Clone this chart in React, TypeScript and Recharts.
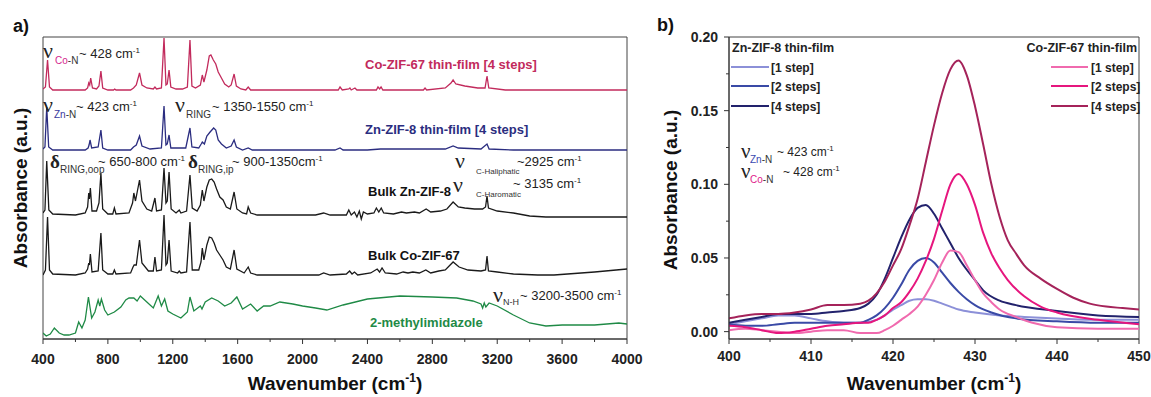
import React from 'react';
import { LineChart, Line, XAxis, YAxis, ReferenceArea, Legend } from 'recharts';

// ---- panel a: FTIR spectra, [wavenumber, absorbance above the trace's own baseline]
const coFilmShift = 2.49;
const coFilm: [number, number][] = [
  [400, 0.01], [415, 0.03], [428, 0.30], [440, 0.03], [460, 0.0], [660, 0.0], [675, 0.02], [682, 0.07],
  [688, 0.05], [694, 0.12], [705, 0.02], [730, 0.01], [745, 0.04], [757, 0.19], [768, 0.02], [800, 0.0],
  [835, 0.0], [842, 0.01], [850, 0.0], [940, 0.0], [958, 0.02], [975, 0.05], [995, 0.17], [1010, 0.05],
  [1040, 0.02], [1080, 0.01], [1090, 0.03], [1100, 0.01], [1130, 0.02], [1146, 0.52], [1158, 0.05],
  [1166, 0.06], [1177, 0.20], [1188, 0.03], [1220, 0.01], [1260, 0.01], [1290, 0.03], [1306, 0.50],
  [1318, 0.04], [1340, 0.02], [1370, 0.05], [1382, 0.15], [1392, 0.08], [1410, 0.20], [1425, 0.34],
  [1435, 0.35], [1450, 0.30], [1465, 0.26], [1480, 0.18], [1500, 0.12], [1520, 0.06], [1545, 0.03],
  [1560, 0.05], [1578, 0.16], [1592, 0.04], [1620, 0.01], [1650, 0.0], [1665, 0.03], [1680, 0.0],
  [2220, 0.0], [2231, 0.03], [2245, 0.0], [2285, 0.01], [2292, 0.02], [2300, 0.0], [2323, 0.02],
  [2335, 0.0], [2455, 0.0], [2465, 0.03], [2475, 0.01], [2484, 0.03], [2495, 0.0], [2745, 0.0],
  [2755, 0.02], [2765, 0.0], [2880, 0.02], [2915, 0.07], [2928, 0.10], [2945, 0.06], [3000, 0.04],
  [3080, 0.02], [3125, 0.02], [3137, 0.14], [3148, 0.02], [3250, 0.0], [4000, 0.0],
];

const znFilmShift = 1.89;
const znFilm: [number, number][] = [
  [400, 0.01], [412, 0.03], [423, 0.43], [435, 0.03], [460, 0.0], [660, 0.0], [678, 0.02], [684, 0.05],
  [690, 0.10], [700, 0.02], [740, 0.03], [757, 0.20], [768, 0.02], [800, 0.0], [940, 0.0], [958, 0.03],
  [975, 0.05], [995, 0.14], [1010, 0.04], [1060, 0.01], [1130, 0.02], [1146, 0.44], [1158, 0.05],
  [1166, 0.06], [1177, 0.15], [1188, 0.02], [1280, 0.02], [1306, 0.22], [1318, 0.03], [1360, 0.02],
  [1375, 0.06], [1382, 0.08], [1395, 0.06], [1410, 0.14], [1430, 0.18], [1452, 0.22], [1465, 0.20],
  [1480, 0.10], [1500, 0.06], [1530, 0.02], [1560, 0.04], [1578, 0.10], [1592, 0.03], [1630, 0.0],
  [1665, 0.02], [1690, 0.0], [2200, 0.0], [2231, 0.02], [2250, 0.0], [2400, 0.0], [2480, 0.01],
  [2880, 0.01], [2928, 0.04], [2960, 0.02], [3100, 0.01], [3137, 0.06], [3150, 0.01], [3300, 0.0],
  [4000, 0.0],
];

const bulkZnShift = 1.24;
const bulkZn: [number, number][] = [
  [400, 0.02], [412, 0.05], [423, 0.54], [436, 0.05], [460, 0.01], [600, 0.0], [660, 0.02], [675, 0.08],
  [682, 0.22], [686, 0.16], [692, 0.27], [702, 0.04], [730, 0.04], [745, 0.12], [757, 0.42], [768, 0.06],
  [800, 0.01], [830, 0.01], [840, 0.07], [850, 0.01], [930, 0.02], [952, 0.12], [960, 0.22], [970, 0.14],
  [995, 0.35], [1010, 0.14], [1040, 0.06], [1070, 0.04], [1090, 0.17], [1100, 0.04], [1130, 0.05],
  [1146, 0.47], [1158, 0.12], [1166, 0.14], [1177, 0.43], [1190, 0.06], [1220, 0.02], [1240, 0.05],
  [1250, 0.02], [1285, 0.04], [1306, 0.40], [1320, 0.07], [1350, 0.04], [1370, 0.10], [1382, 0.25],
  [1392, 0.14], [1410, 0.28], [1425, 0.35], [1440, 0.36], [1455, 0.33], [1470, 0.26], [1490, 0.18],
  [1510, 0.15], [1530, 0.08], [1555, 0.06], [1578, 0.23], [1595, 0.06], [1630, 0.02], [1655, 0.01],
  [1665, 0.08], [1680, 0.02], [1720, 0.0], [2080, 0.0], [2130, 0.02], [2170, 0.0], [2270, 0.0],
  [2285, 0.05], [2300, 0.0], [2320, 0.03], [2335, -0.02], [2350, 0.04], [2362, -0.04], [2375, 0.03],
  [2400, 0.01], [2440, 0.02], [2455, 0.07], [2470, 0.03], [2485, 0.07], [2500, 0.02], [2560, 0.01],
  [2610, 0.03], [2640, 0.02], [2690, 0.03], [2720, 0.02], [2762, 0.06], [2790, 0.03], [2850, 0.04],
  [2890, 0.06], [2928, 0.13], [2960, 0.08], [3000, 0.07], [3060, 0.06], [3110, 0.06], [3128, 0.08],
  [3137, 0.19], [3146, 0.07], [3200, 0.04], [3300, 0.02], [3400, -0.01], [3500, -0.02], [4000, -0.02],
];

const bulkCoShift = 0.64;
const bulkCo: [number, number][] = [
  [400, 0.0], [415, 0.05], [428, 0.58], [440, 0.05], [460, 0.01], [600, 0.0], [660, 0.02], [675, 0.06],
  [682, 0.12], [686, 0.10], [692, 0.21], [702, 0.03], [740, 0.04], [757, 0.42], [768, 0.05], [800, 0.01],
  [830, 0.01], [840, 0.05], [850, 0.01], [940, 0.02], [955, 0.08], [962, 0.10], [975, 0.10], [995, 0.35],
  [1010, 0.12], [1050, 0.04], [1080, 0.04], [1090, 0.18], [1100, 0.04], [1130, 0.05], [1146, 0.60],
  [1158, 0.10], [1166, 0.12], [1177, 0.35], [1190, 0.04], [1230, 0.02], [1240, 0.04], [1250, 0.02],
  [1285, 0.03], [1306, 0.53], [1320, 0.05], [1360, 0.05], [1374, 0.13], [1382, 0.27], [1392, 0.15],
  [1410, 0.30], [1425, 0.38], [1440, 0.37], [1455, 0.32], [1470, 0.25], [1490, 0.20], [1510, 0.15],
  [1530, 0.08], [1555, 0.06], [1578, 0.25], [1595, 0.06], [1640, 0.02], [1665, 0.08], [1680, 0.02],
  [1720, 0.0], [2100, 0.0], [2130, 0.02], [2170, 0.0], [2270, 0.01], [2290, 0.04], [2305, 0.01],
  [2320, 0.03], [2340, 0.0], [2420, 0.02], [2460, 0.06], [2475, 0.03], [2490, 0.07], [2510, 0.02],
  [2580, 0.01], [2620, 0.03], [2650, 0.02], [2680, 0.03], [2720, 0.02], [2760, 0.05], [2790, 0.02],
  [2840, 0.04], [2880, 0.05], [2928, 0.13], [2965, 0.08], [3020, 0.05], [3100, 0.04], [3128, 0.05],
  [3137, 0.19], [3146, 0.04], [3200, 0.03], [3300, 0.01], [3450, 0.0], [3550, 0.0], [3800, 0.03],
  [4000, 0.06],
];

const mimShift = 0;
const mim: [number, number][] = [
  [400, 0.06], [420, 0.03], [445, 0.05], [470, 0.11], [500, 0.06], [530, 0.04], [560, 0.04], [600, 0.06],
  [620, 0.17], [640, 0.11], [660, 0.19], [680, 0.42], [700, 0.21], [720, 0.27], [740, 0.39], [750, 0.33],
  [760, 0.40], [780, 0.29], [800, 0.24], [840, 0.27], [880, 0.32], [910, 0.39], [930, 0.41], [960, 0.41],
  [980, 0.38], [1000, 0.43], [1040, 0.37], [1080, 0.31], [1110, 0.43], [1130, 0.33], [1150, 0.40],
  [1170, 0.28], [1200, 0.25], [1250, 0.21], [1290, 0.27], [1306, 0.42], [1330, 0.28], [1370, 0.33],
  [1380, 0.30], [1400, 0.37], [1440, 0.41], [1480, 0.38], [1520, 0.33], [1560, 0.36], [1595, 0.42],
  [1630, 0.30], [1680, 0.35], [1720, 0.28], [1760, 0.33], [1800, 0.33], [1860, 0.37], [1940, 0.35],
  [2000, 0.33], [2080, 0.31], [2150, 0.29], [2250, 0.34], [2400, 0.40], [2600, 0.43], [2800, 0.42],
  [2950, 0.41], [3050, 0.38], [3100, 0.35], [3110, 0.31], [3120, 0.36], [3130, 0.32], [3150, 0.36],
  [3200, 0.33], [3300, 0.24], [3400, 0.16], [3500, 0.13], [3600, 0.14], [3800, 0.14], [3950, 0.16],
  [4000, 0.15],
];

const spectraTicks = [400, 600, 800, 1000, 1200, 1400, 1600, 1800, 2000, 2200, 2400, 2600, 2800, 3000,
  3200, 3400, 3600, 3800, 4000];

// ---- panel b: zoom on the M-N stretch, [wavenumber, absorbance]
const zn1: [number, number][] = [
  [400, 0.005], [402, 0.007], [404, 0.009], [406, 0.011], [408, 0.011], [410, 0.009], [412, 0.007],
  [414, 0.006], [416, 0.006], [418, 0.008], [419, 0.011], [420, 0.015], [421, 0.018], [422, 0.021],
  [423, 0.022], [424, 0.022], [425, 0.021], [426, 0.019], [427, 0.017], [428, 0.015], [430, 0.013],
  [433, 0.011], [436, 0.010], [440, 0.009], [445, 0.008], [450, 0.008],
];
const zn2: [number, number][] = [
  [400, 0.005], [402, 0.004], [404, 0.004], [406, 0.005], [408, 0.006], [410, 0.006], [412, 0.006],
  [414, 0.006], [416, 0.006], [417, 0.008], [418, 0.011], [419, 0.016], [420, 0.023], [421, 0.032],
  [422, 0.042], [423, 0.048], [424, 0.050], [425, 0.047], [426, 0.040], [427, 0.033], [428, 0.027],
  [429, 0.022], [430, 0.018], [432, 0.013], [435, 0.009], [440, 0.007], [445, 0.006], [450, 0.006],
];
const zn4: [number, number][] = [
  [400, 0.006], [402, 0.008], [404, 0.010], [406, 0.012], [408, 0.012], [410, 0.012], [412, 0.013],
  [414, 0.014], [416, 0.016], [417, 0.019], [418, 0.025], [419, 0.036], [420, 0.050], [421, 0.064],
  [422, 0.076], [423, 0.084], [424, 0.086], [425, 0.080], [426, 0.070], [427, 0.060], [428, 0.050],
  [429, 0.042], [430, 0.035], [431, 0.028], [433, 0.021], [435, 0.018], [440, 0.014], [445, 0.011],
  [450, 0.010],
];
const co1: [number, number][] = [
  [400, 0.001], [402, 0.002], [404, 0.001], [406, 0.0], [408, -0.001], [410, 0.0], [412, 0.001],
  [414, 0.001], [416, -0.001], [418, -0.001], [419, 0.001], [420, 0.004], [421, 0.008], [422, 0.012],
  [423, 0.017], [424, 0.025], [425, 0.035], [426, 0.047], [427, 0.055], [428, 0.054], [429, 0.045],
  [430, 0.035], [431, 0.026], [432, 0.020], [433, 0.015], [435, 0.010], [437, 0.006], [440, 0.003],
  [445, 0.002], [450, 0.002],
];
const co2: [number, number][] = [
  [400, 0.004], [402, 0.003], [404, 0.001], [406, -0.001], [408, 0.0], [410, 0.002], [412, 0.004],
  [414, 0.005], [416, 0.006], [417, 0.006], [418, 0.008], [419, 0.011], [420, 0.016], [421, 0.020],
  [422, 0.027], [423, 0.036], [424, 0.048], [425, 0.063], [426, 0.082], [427, 0.100], [428, 0.107],
  [429, 0.100], [430, 0.086], [431, 0.067], [432, 0.053], [433, 0.043], [434, 0.035], [436, 0.024],
  [438, 0.017], [440, 0.013], [445, 0.008], [450, 0.005],
];
const co4: [number, number][] = [
  [400, 0.009], [402, 0.011], [404, 0.012], [406, 0.012], [408, 0.013], [410, 0.015], [412, 0.018],
  [414, 0.018], [416, 0.019], [417, 0.021], [418, 0.026], [419, 0.034], [420, 0.045], [421, 0.056],
  [422, 0.072], [423, 0.090], [424, 0.115], [425, 0.140], [426, 0.162], [427, 0.178], [428, 0.184],
  [429, 0.174], [430, 0.153], [431, 0.127], [432, 0.100], [433, 0.078], [434, 0.062], [435, 0.053],
  [436, 0.045], [438, 0.036], [440, 0.029], [442, 0.023], [444, 0.019], [446, 0.017], [448, 0.016],
  [450, 0.015],
];

const zoomXTicks = [400, 405, 410, 415, 420, 425, 430, 435, 440, 445, 450];
const zoomYTicks = [0, 0.025, 0.05, 0.075, 0.1, 0.125, 0.15, 0.175, 0.2];

const SANS = '"Liberation Sans", Arial, sans-serif';
const SERIF = '"Liberation Serif", "Times New Roman", serif';
const AXIS = '#333';

const toRows = (pts: [number, number][], shift = 0) => pts.map(([wn, v]) => ({ wn, v: v + shift }));

const spectra = [
  { key: 'coFilm', data: toRows(coFilm, coFilmShift), color: '#c22a5c' },
  { key: 'znFilm', data: toRows(znFilm, znFilmShift), color: '#2b2d80' },
  { key: 'bulkZn', data: toRows(bulkZn, bulkZnShift), color: '#1a1a1a' },
  { key: 'bulkCo', data: toRows(bulkCo, bulkCoShift), color: '#1a1a1a' },
  { key: 'mim', data: toRows(mim, mimShift), color: '#1f8a46' },
];

const zoomSeries = [
  { name: 'Zn-ZIF-8 [1 step]', data: toRows(zn1), color: '#8c90d8' },
  { name: 'Zn-ZIF-8 [2 steps]', data: toRows(zn2), color: '#3a4aa6' },
  { name: 'Zn-ZIF-8 [4 steps]', data: toRows(zn4), color: '#22226c' },
  { name: 'Co-ZIF-67 [1 step]', data: toRows(co1), color: '#f06aae' },
  { name: 'Co-ZIF-67 [2 steps]', data: toRows(co2), color: '#e6167e' },
  { name: 'Co-ZIF-67 [4 steps]', data: toRows(co4), color: '#a5235a' },
];

const XTickA = (props: any) => {
  const { x, y, payload } = props;
  const major = payload.value % 400 === 0;
  return (
    <g>
      <line x1={x} x2={x} y1={y} y2={y + (major ? 5 : 3)} stroke={AXIS} />
      {major && (
        <text x={x} y={y + 25} textAnchor="middle" fontFamily={SANS} fontSize={14} fontWeight="bold" fill="#222">
          {payload.value}
        </text>
      )}
    </g>
  );
};

const XTickB = (props: any) => {
  const { x, y, payload } = props;
  const major = payload.value % 10 === 0;
  return (
    <g>
      <line x1={x} x2={x} y1={y} y2={y + (major ? 5 : 3)} stroke={AXIS} />
      {major && (
        <text x={x} y={y + 22} textAnchor="middle" fontFamily={SANS} fontSize={14} fontWeight="bold" fill="#222">
          {payload.value}
        </text>
      )}
    </g>
  );
};

const YTickB = (props: any) => {
  const { x, y, payload } = props;
  const v = Number(payload.value);
  const major = Math.abs(v * 20 - Math.round(v * 20)) < 1e-6;
  return (
    <g>
      <line x1={x} x2={x - (major ? 5 : 3)} y1={y} y2={y} stroke={AXIS} />
      {major && (
        <text x={x - 11} y={y + 5} textAnchor="end" fontFamily={SANS} fontSize={14} fontWeight="bold" fill="#222">
          {v.toFixed(2)}
        </text>
      )}
    </g>
  );
};

const ZoomLegend = ({ payload }: any) => {
  const items = payload || [];
  const zn = items.filter((p: any) => String(p.value).startsWith('Zn'));
  const co = items.filter((p: any) => String(p.value).startsWith('Co'));
  const label = (s: string) => s.slice(s.indexOf('['));
  const rowY = [67, 86, 106];
  return (
    <svg width={511} height={130} style={{ display: 'block' }}>
      <text x={92} y={52} fontFamily={SANS} fontSize={12.5} fontWeight="bold" fill="#222">Zn-ZIF-8 thin-film</text>
      {zn.map((p: any, i: number) => (
        <g key={p.value}>
          <line x1={91} x2={129} y1={rowY[i]} y2={rowY[i]} stroke={p.color} strokeWidth={2} />
          <text x={131} y={rowY[i] + 5} fontFamily={SANS} fontSize={12} fontWeight="bold" fill="#222">{label(p.value)}</text>
        </g>
      ))}
      <text x={497} y={52} textAnchor="end" fontFamily={SANS} fontSize={12.5} fontWeight="bold" fill="#222">Co-ZIF-67 thin-film</text>
      {co.map((p: any, i: number) => (
        <g key={p.value}>
          <line x1={411} x2={448} y1={rowY[i]} y2={rowY[i]} stroke={p.color} strokeWidth={2} />
          <text x={451} y={rowY[i] + 5} fontFamily={SANS} fontSize={12} fontWeight="bold" fill="#222">{label(p.value)}</text>
        </g>
      ))}
    </svg>
  );
};

const Cm = ({ x, y, pre, size = 13 }: { x: number; y: number; pre: string; size?: number }) => (
  <text x={x} y={y} fontFamily={SANS} fontSize={size} fill="#222">
    {pre}cm<tspan dy={-5} fontSize={8}>-1</tspan>
  </text>
);

const Greek = ({ x, y, g, bold = false, size = 22 }: { x: number; y: number; g: string; bold?: boolean; size?: number }) => (
  <text x={x} y={y} fontFamily={SERIF} fontSize={size} fontWeight={bold ? 'bold' : 'normal'} fill="#222">{g}</text>
);

const Sub = ({ x, y, children, size = 10 }: any) => (
  <text x={x} y={y} fontFamily={SANS} fontSize={size} fill="#333">{children}</text>
);

const Bold = ({ x, y, fill, children, size = 13 }: any) => (
  <text x={x} y={y} fontFamily={SANS} fontSize={size} fontWeight="bold" fill={fill}>{children}</text>
);

const Annotations = () => (
  <svg width={1151} height={397} style={{ position: 'absolute', left: 0, top: 0, pointerEvents: 'none' }}>
    <Bold x={13} y={32} fill="#111" size={18}>a)</Bold>
    <Bold x={657} y={31} fill="#111" size={18}>b)</Bold>

    {/* panel a labels */}
    <Greek x={43} y={58} g="ν" />
    <Sub x={55} y={64}><tspan fill="#d4268e">Co</tspan>-N</Sub>
    <Cm x={79} y={58} pre="~ 428 " />
    <Bold x={365} y={69} fill="#c22a5c">Co-ZIF-67 thin-film [4 steps]</Bold>

    <Greek x={43} y={112} g="ν" />
    <Sub x={54} y={118}><tspan fill="#3a3aa0">Zn</tspan>-N</Sub>
    <Cm x={76} y={111} pre="~ 423 " />
    <Greek x={175} y={112} g="ν" />
    <Sub x={186} y={118}>RING</Sub>
    <Cm x={212} y={111} pre="~ 1350-1550 " />
    <Bold x={365} y={134} fill="#2b2d80">Zn-ZIF-8 thin-film [4 steps]</Bold>

    <Greek x={50} y={168} g="δ" bold size={19} />
    <Sub x={60} y={173}>RING,oop</Sub>
    <Cm x={98} y={166} pre="~ 650-800 " />
    <Greek x={188} y={168} g="δ" bold size={19} />
    <Sub x={198} y={173}>RING,ip</Sub>
    <Cm x={232} y={166} pre="~ 900-1350" />

    <Greek x={455} y={168} g="ν" />
    <Sub x={476} y={174} size={8}>C-Haliphatic</Sub>
    <Cm x={517} y={166} pre="~2925 " />
    <Bold x={368} y={196} fill="#111">Bulk Zn-ZIF-8</Bold>
    <Greek x={453} y={192} g="ν" />
    <Sub x={476} y={197} size={8}>C-Haromatic</Sub>
    <Cm x={513} y={188} pre="~ 3135 " />

    <Bold x={368} y={260} fill="#111">Bulk Co-ZIF-67</Bold>
    <Greek x={493} y={302} g="ν" />
    <Sub x={503} y={305} size={9}>N-H</Sub>
    <Cm x={520} y={300} pre="~ 3200-3500 " />
    <Bold x={370} y={327} fill="#1f8a46">2-methylimidazole</Bold>

    {/* panel b labels */}
    <Greek x={741} y={158} g="ν" size={21} />
    <Sub x={750} y={163}><tspan fill="#3a4ab0">Zn</tspan>-N</Sub>
    <Cm x={777} y={156} pre="~ 423 " size={12} />
    <Greek x={741} y={178} g="ν" size={21} />
    <Sub x={750} y={183}><tspan fill="#e0208a">Co</tspan>-N</Sub>
    <Cm x={783} y={176} pre="~ 428 " size={12} />

    {/* axis titles */}
    <text x={335} y={390} textAnchor="middle" fontFamily={SANS} fontSize={19} fontWeight="bold" fill="#111">
      Wavenumber (cm<tspan dy={-8} fontSize={12}>-1</tspan><tspan dy={8}>)</tspan>
    </text>
    <text x={934} y={390} textAnchor="middle" fontFamily={SANS} fontSize={19} fontWeight="bold" fill="#111">
      Wavenumber (cm<tspan dy={-8} fontSize={12}>-1</tspan><tspan dy={8}>)</tspan>
    </text>
    <text transform="translate(27,188) rotate(-90)" textAnchor="middle" fontFamily={SANS} fontSize={19} fontWeight="bold" fill="#111">
      Absorbance (a.u.)
    </text>
    <text transform="translate(677,190) rotate(-90)" textAnchor="middle" fontFamily={SANS} fontSize={19} fontWeight="bold" fill="#111">
      Absorbance (a.u.)
    </text>
  </svg>
);

export default function App() {
  return (
    <div style={{ position: 'absolute', left: 0, top: 0, width: 1151, height: 397, background: '#fff', overflow: 'hidden' }}>
      <div style={{ position: 'absolute', left: 0, top: 0 }}>
        <LineChart width={660} height={397} margin={{ top: 37, right: 33, bottom: 0, left: 43 }}>
          <XAxis
            dataKey="wn"
            type="number"
            domain={[400, 4000]}
            ticks={spectraTicks}
            interval={0}
            allowDataOverflow
            height={58}
            tickSize={0}
            tickMargin={0}
            tickLine={false}
            tick={<XTickA />}
            stroke={AXIS}
          />
          <YAxis hide type="number" domain={[0, 3.02]} allowDataOverflow />
          <ReferenceArea x1={400} x2={4000} y1={0} y2={3.02} fill="none" stroke="#444" strokeWidth={1} />
          {spectra.map(s => (
            <Line
              key={s.key}
              data={s.data}
              dataKey="v"
              type="linear"
              stroke={s.color}
              strokeWidth={1.3}
              dot={false}
              activeDot={false}
              isAnimationActive={false}
            />
          ))}
        </LineChart>
      </div>
      <div style={{ position: 'absolute', left: 640, top: 0 }}>
        <LineChart width={511} height={397} margin={{ top: 37, right: 12, bottom: 0, left: 0 }}>
          <XAxis
            dataKey="wn"
            type="number"
            domain={[400, 450]}
            ticks={zoomXTicks}
            interval={0}
            allowDataOverflow
            height={58}
            tickSize={0}
            tickMargin={0}
            tickLine={false}
            tick={<XTickB />}
            stroke={AXIS}
          />
          <YAxis
            type="number"
            domain={[-0.005, 0.2]}
            ticks={zoomYTicks}
            interval={0}
            allowDataOverflow
            width={89}
            tickSize={0}
            tickMargin={0}
            tickLine={false}
            tick={<YTickB />}
            stroke={AXIS}
          />
          <ReferenceArea x1={400} x2={450} y1={-0.005} y2={0.2} fill="none" stroke="#444" strokeWidth={1} />
          {zoomSeries.map(s => (
            <Line
              key={s.name}
              name={s.name}
              data={s.data}
              dataKey="v"
              type="monotone"
              stroke={s.color}
              strokeWidth={2}
              dot={false}
              activeDot={false}
              isAnimationActive={false}
            />
          ))}
          <Legend
            layout="horizontal"
            verticalAlign="middle"
            align="center"
            wrapperStyle={{ position: 'absolute', left: 0, top: 0, width: 511, height: 130 }}
            content={<ZoomLegend />}
          />
        </LineChart>
      </div>
      <Annotations />
    </div>
  );
}
